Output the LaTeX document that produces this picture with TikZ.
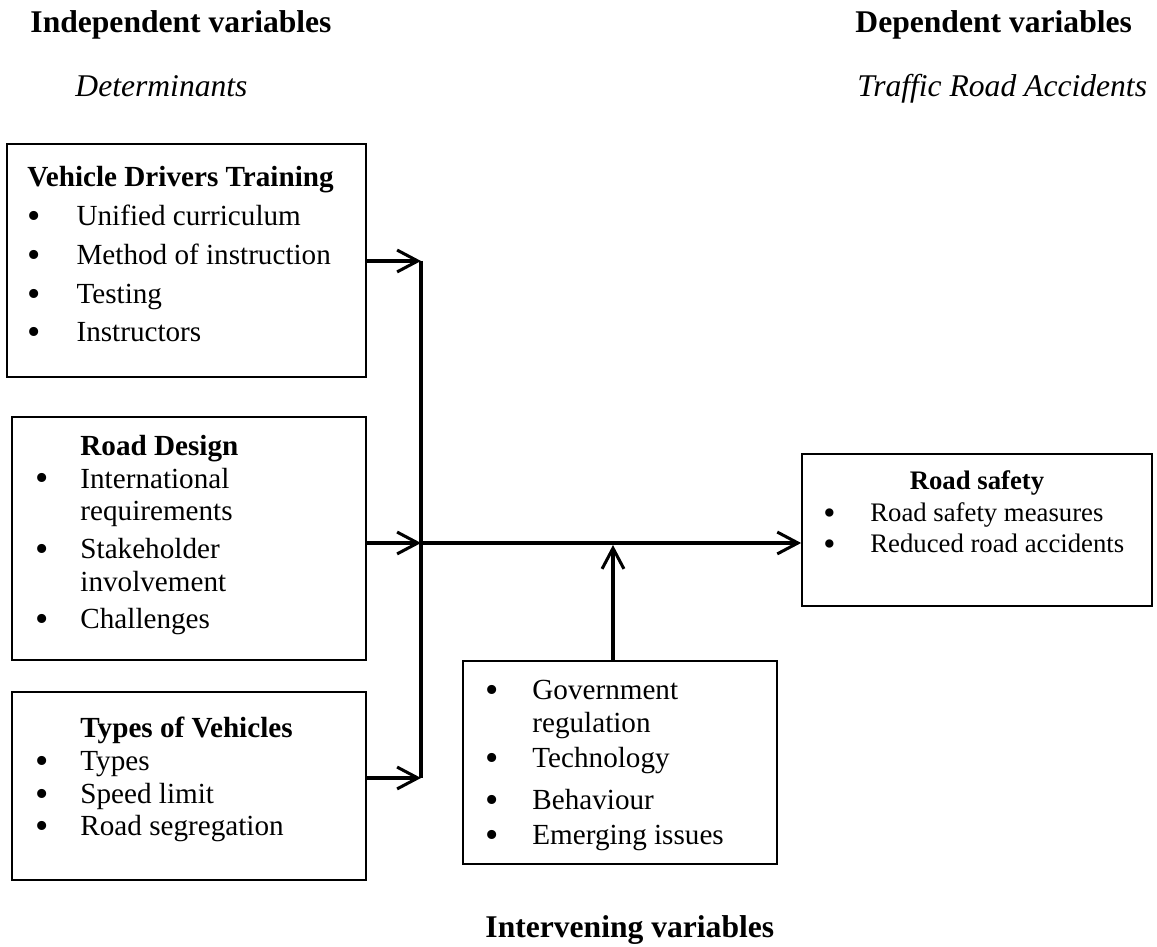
\documentclass[tikz,border=0pt]{standalone}
\usepackage{fontspec}
\setmainfont{Liberation Serif}
\usetikzlibrary{arrows.meta,positioning,fit}
\tikzset{
  every node/.style={font=\fontsize{12}{13.5}\selectfont, inner sep=0pt},
  box/.style={draw, rectangle, line width=0.7pt, inner sep=0pt},
  listtext/.style={anchor=base west, align=left},
  heading/.style={anchor=base west, font=\fontsize{13}{15}\selectfont\bfseries},
  subheading/.style={anchor=base west, font=\fontsize{13}{15}\selectfont\itshape},
  arrow/.style={-{Straight Barb[length=8.5pt, width=9pt, line width=1.25pt]}, line width=1.25pt},
  bus/.style={line width=1.25pt}
}
\newcommand{\bul}[1]{\makebox[#1][l]{\smash{\raisebox{-0.1em}{\scalebox{1.3}{\textbullet}}}}}

\begin{document}
\begin{tikzpicture}[x=0.4115pt, y=-0.4115pt]
\useasboundingbox (0,0) rectangle (1157,947);

% Column titles
\node[heading] (indep) at (30,33) {Independent variables};
\node[subheading] (determ) at (75,97) {Determinants};
\node[heading] (dep) at (855,33) {Dependent variables};
\node[subheading] (accid) at (857,97) {Traffic Road Accidents};
\node[heading] (interv) at (485,938) {Intervening variables};

% Boxes
\node[box, fit={(7,144) (366,377)}] (vdt) {};
\node[box, fit={(12,417) (366,660)}] (design) {};
\node[box, fit={(12,692) (366,880)}] (types) {};
\node[box, fit={(463,661) (777,864)}] (inter) {};
\node[box, fit={(802,454) (1152,606)}] (safety) {};

% Box contents (placed at the baseline of their last line)
\node[listtext, font=\fontsize{12}{16}\selectfont] (vdtList) at (27,342) {%
  \textbf{Vehicle Drivers Training}\\
  \bul{20.2pt}Unified curriculum\\
  \bul{20.2pt}Method of instruction\\
  \bul{20.2pt}Testing\\
  \bul{20.2pt}Instructors};
\node[listtext] (designList) at (35,629) {%
  \hspace*{18.5pt}\textbf{Road Design}\\
  \bul{18.5pt}International\\
  \hspace*{18.5pt}requirements\\[2pt]
  \bul{18.5pt}Stakeholder\\
  \hspace*{18.5pt}involvement\\[2pt]
  \bul{18.5pt}Challenges};
\node[listtext] (typesList) at (35,836) {%
  \hspace*{18.5pt}\textbf{Types of Vehicles}\\
  \bul{18.5pt}Types\\
  \bul{18.5pt}Speed limit\\
  \bul{18.5pt}Road segregation};
\node[listtext] (interList) at (485,845) {%
  \bul{19.3pt}Government\\
  \hspace*{19.3pt}regulation\\[0.8pt]
  \bul{19.3pt}Technology\\[3.7pt]
  \bul{19.3pt}Behaviour\\[1.2pt]
  \bul{19.3pt}Emerging issues};
\node[anchor=base, font=\fontsize{11}{12.8}\selectfont\bfseries] (safetyHead) at (977,490) {Road safety};
\node[listtext, font=\fontsize{11}{12.8}\selectfont] (safetyList) at (823,553) {%
  \bul{19.3pt}Road safety measures\\
  \bul{19.3pt}Reduced road accidents};

% Collecting line and arrows
\coordinate (busTop) at (421,261);
\coordinate (busMid) at (421,543);
\coordinate (busBot) at (421,778);
\coordinate (joint) at (613,545);
\draw[bus] (busTop) -- (busBot);
\draw[arrow] (vdt.east |- busTop) -- (busTop);
\draw[arrow] (design.east |- busMid) -- (busMid);
\draw[arrow] (types.east |- busBot) -- (busBot);
\draw[arrow] (busMid) -- (safety.west |- busMid);
\draw[arrow] (inter.north -| joint) -- (joint);

\end{tikzpicture}
\end{document}
